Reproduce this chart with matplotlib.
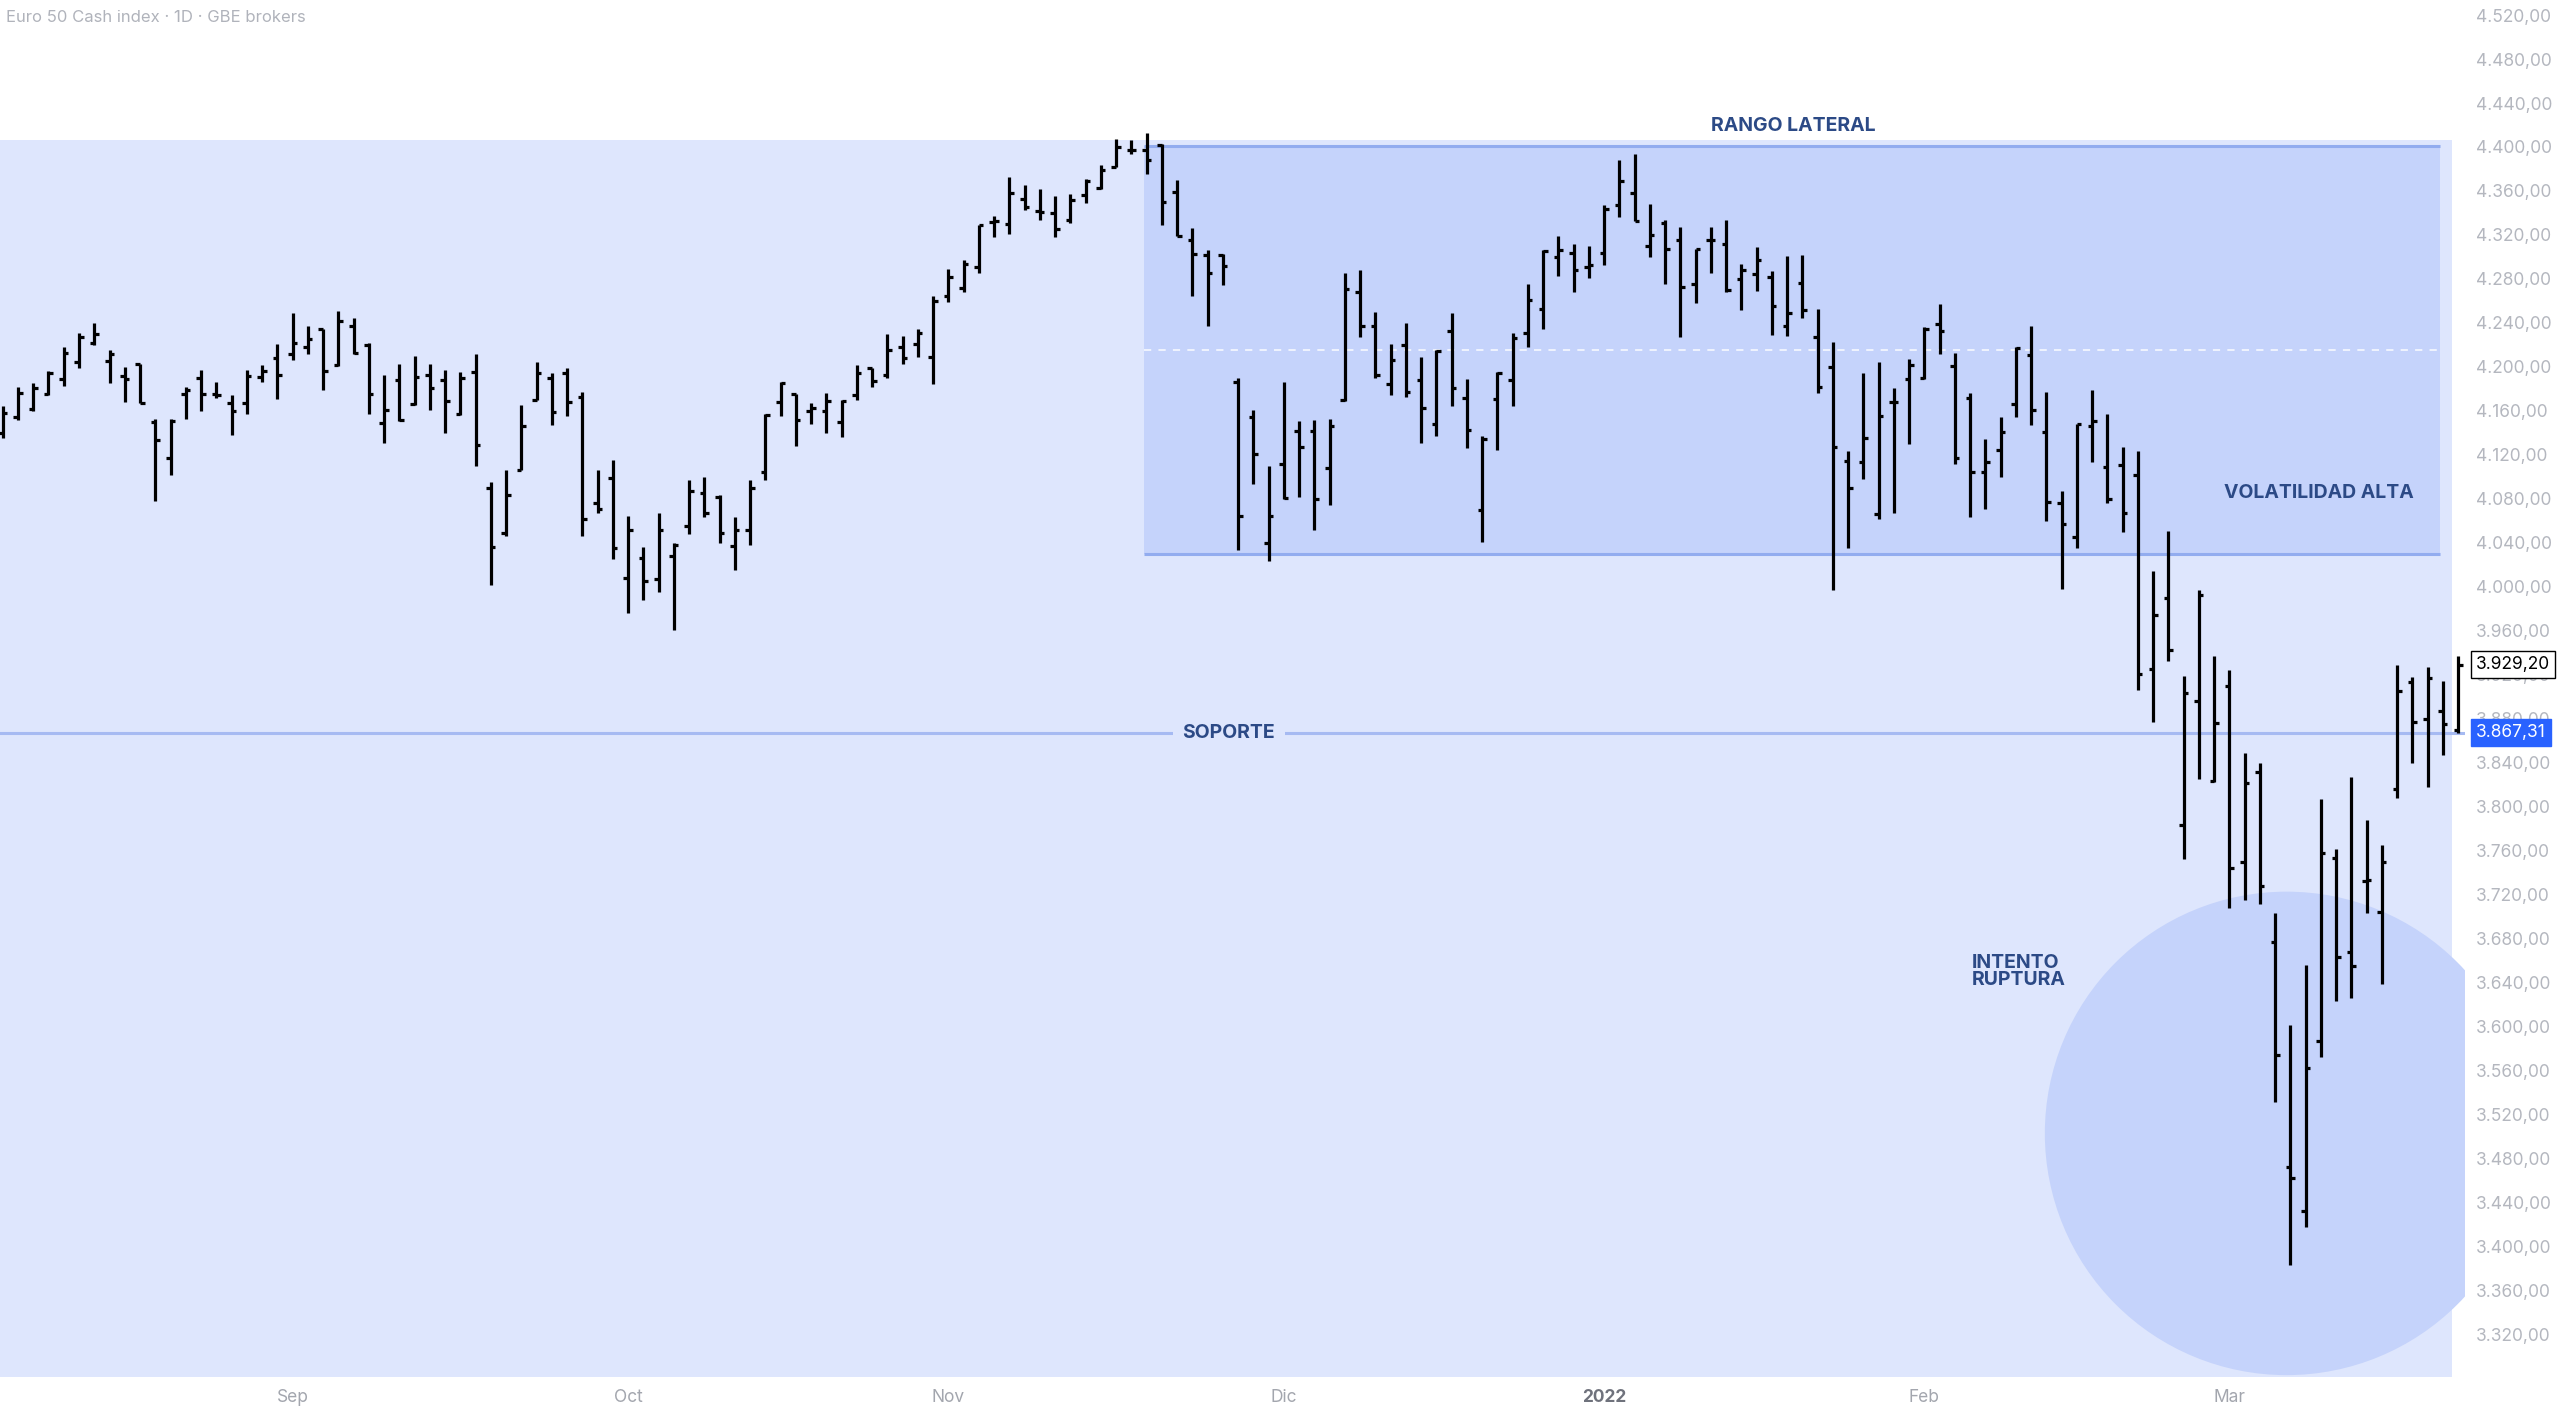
import matplotlib
matplotlib.use('Agg')
import matplotlib.pyplot as plt
from matplotlib.patches import Rectangle, Ellipse
import matplotlib.transforms as mtransforms

plt.rcParams['font.family'] = ['Inter', 'DejaVu Sans']

# daily OHLC, Euro 50 cash index, early Aug 2021 -> 22 Mar 2022
opens = [4140, 4154, 4162, 4175, 4189, 4204, 4222, 4205, 4192, 4203,
         4150, 4117, 4175, 4190, 4175, 4167, 4167, 4191, 4208, 4212,
         4218, 4234, 4202, 4237, 4220, 4149, 4188, 4166, 4193, 4188,
         4157, 4195, 4090, 4049, 4106, 4170, 4190, 4194, 4173, 4076,
         4099, 4008, 4026, 4007, 4028, 4055, 4085, 4082, 4037, 4052,
         4104, 4168, 4175, 4160, 4160, 4150, 4174, 4199, 4193, 4218,
         4221, 4209, 4264, 4272, 4291, 4332, 4330, 4353, 4342, 4340,
         4334, 4356, 4363, 4382, 4397, 4397, 4402, 4359, 4315, 4302,
         4302, 4186, 4154, 4040, 4112, 4142, 4142, 4108, 4170, 4268,
         4237, 4184, 4220, 4188, 4148, 4233, 4172, 4070, 4171, 4188,
         4231, 4253, 4300, 4304, 4291, 4304, 4347, 4358, 4310, 4331,
         4315, 4275, 4315, 4312, 4280, 4284, 4282, 4237, 4276, 4227,
         4200, 4114, 4113, 4066, 4168, 4189, 4190, 4239, 4201, 4172,
         4104, 4124, 4166, 4211, 4141, 4076, 4045, 4146, 4109, 4111,
         4102, 3925, 3990, 3783, 3896, 3823, 3910, 3750, 3831, 3677,
         3472, 3432, 3587, 3753, 3668, 3732, 3704, 3816, 3913, 3880,
         3887, 3870]
highs = [4164, 4182, 4185, 4196, 4218, 4231, 4240, 4215, 4200, 4203,
         4153, 4153, 4182, 4197, 4186, 4174, 4197, 4202, 4221, 4249,
         4237, 4234, 4251, 4244, 4222, 4193, 4203, 4210, 4203, 4197,
         4195, 4212, 4095, 4106, 4165, 4204, 4194, 4199, 4177, 4106,
         4115, 4064, 4036, 4067, 4040, 4097, 4100, 4083, 4063, 4097,
         4157, 4186, 4175, 4167, 4176, 4170, 4202, 4199, 4230, 4228,
         4234, 4264, 4289, 4297, 4329, 4337, 4373, 4365, 4362, 4355,
         4357, 4371, 4384, 4407, 4406, 4413, 4403, 4370, 4326, 4306,
         4303, 4190, 4161, 4110, 4186, 4151, 4152, 4153, 4285, 4288,
         4250, 4221, 4240, 4209, 4215, 4249, 4189, 4137, 4195, 4231,
         4275, 4306, 4319, 4312, 4310, 4347, 4388, 4394, 4348, 4334,
         4327, 4307, 4327, 4334, 4294, 4309, 4287, 4301, 4302, 4253,
         4223, 4123, 4194, 4204, 4181, 4207, 4236, 4257, 4213, 4176,
         4134, 4154, 4218, 4237, 4177, 4087, 4148, 4179, 4157, 4127,
         4123, 4014, 4051, 3919, 3997, 3937, 3924, 3849, 3840, 3703,
         3601, 3656, 3807, 3761, 3827, 3788, 3765, 3929, 3918, 3927,
         3914, 3937]
lows = [4135, 4152, 4160, 4174, 4183, 4199, 4220, 4185, 4168, 4167,
        4078, 4102, 4153, 4160, 4172, 4138, 4157, 4186, 4171, 4206,
        4212, 4179, 4201, 4212, 4157, 4131, 4151, 4165, 4161, 4140,
        4156, 4110, 4002, 4046, 4106, 4170, 4147, 4155, 4046, 4067,
        4025, 3976, 3988, 3995, 3961, 4048, 4063, 4040, 4015, 4038,
        4097, 4155, 4128, 4148, 4140, 4136, 4170, 4182, 4190, 4203,
        4209, 4184, 4259, 4268, 4285, 4318, 4321, 4343, 4334, 4318,
        4331, 4349, 4362, 4382, 4394, 4375, 4329, 4319, 4264, 4237,
        4274, 4033, 4093, 4023, 4080, 4082, 4052, 4074, 4169, 4227,
        4190, 4174, 4173, 4131, 4137, 4164, 4126, 4041, 4124, 4164,
        4218, 4234, 4283, 4268, 4281, 4293, 4336, 4333, 4300, 4275,
        4227, 4258, 4285, 4268, 4252, 4269, 4229, 4228, 4244, 4176,
        3997, 4035, 4098, 4062, 4067, 4130, 4189, 4212, 4112, 4063,
        4071, 4100, 4154, 4147, 4060, 3998, 4035, 4113, 4076, 4050,
        3906, 3877, 3932, 3752, 3825, 3822, 3708, 3715, 3711, 3531,
        3383, 3418, 3572, 3623, 3626, 3703, 3639, 3808, 3840, 3818,
        3847, 3867]
closes = [4158, 4176, 4181, 4194, 4213, 4227, 4230, 4212, 4189, 4167,
          4133, 4151, 4179, 4175, 4174, 4160, 4192, 4196, 4193, 4222,
          4225, 4196, 4242, 4213, 4175, 4161, 4152, 4191, 4181, 4169,
          4190, 4129, 4036, 4083, 4146, 4194, 4159, 4168, 4062, 4071,
          4035, 4052, 4005, 4052, 4038, 4087, 4067, 4049, 4052, 4090,
          4156, 4185, 4152, 4163, 4169, 4169, 4194, 4187, 4215, 4208,
          4231, 4260, 4282, 4294, 4329, 4333, 4358, 4345, 4341, 4325,
          4352, 4369, 4379, 4400, 4397, 4388, 4350, 4319, 4303, 4285,
          4292, 4064, 4121, 4064, 4081, 4127, 4080, 4146, 4271, 4237,
          4193, 4206, 4177, 4163, 4214, 4181, 4143, 4134, 4194, 4226,
          4261, 4305, 4306, 4288, 4293, 4344, 4369, 4333, 4320, 4307,
          4273, 4307, 4315, 4270, 4288, 4297, 4255, 4249, 4252, 4182,
          4127, 4090, 4135, 4155, 4168, 4202, 4234, 4233, 4117, 4104,
          4113, 4141, 4217, 4161, 4077, 4057, 4148, 4151, 4080, 4067,
          3921, 3974, 3942, 3903, 3992, 3876, 3744, 3821, 3728, 3574,
          3462, 3562, 3758, 3663, 3655, 3733, 3750, 3905, 3877, 3917,
          3875, 3929.20]

# first session of each month (bar index) and its label
month_pos = [19, 41, 62, 84, 105, 126, 146]
month_labels = ['Sep', 'Oct', 'Nov', 'Dic', '2022', 'Feb', 'Mar']

support = 3867.31
range_top = 4401
range_bottom = 4030
last_close = closes[-1]

price_ticks = list(range(3320, 4521, 40))


def es_fmt(v):
    s = f"{v:,.2f}"
    return s.replace(',', 'X').replace('.', ',').replace('X', '.')


fig = plt.figure(figsize=(25.6, 14.13), dpi=100)
ax = fig.add_axes([0, 36 / 1413, 2465 / 2560, 1377 / 1413])
ax.set_xlim(-0.18, 161.45)
ax.set_ylim(3281.1, 4533.7)
ax.set_facecolor('white')
for s in ax.spines.values():
    s.set_visible(False)

light = '#dee6fd'
mid = '#c5d3fb'
edge = '#92acef'
navy = '#2c4a86'

# shaded zones
ax.add_patch(Rectangle((-2, 3200), 162.6, 4406 - 3200, facecolor=light,
                       edgecolor='none', zorder=0))
ax.add_patch(Rectangle((74.85, range_bottom), 159.8 - 74.85,
                       range_top - range_bottom, facecolor=mid,
                       edgecolor='none', zorder=1))
ax.hlines([range_top, range_bottom], 74.85, 159.8, color=edge, lw=2.2, zorder=2)
ax.hlines((range_top + range_bottom) / 2, 74.85, 159.8, color='white',
          lw=1.3, linestyles=(0, (4, 4)), alpha=0.8, zorder=2)
ax.add_patch(Ellipse((149.75, 3502.7), 31.7, 439.8, facecolor=mid,
                     edgecolor='none', zorder=1))
ax.axhline(support, color='#a6baf2', lw=2.2, zorder=2)

# OHLC bars
x = list(range(len(closes)))
ax.vlines(x, lows, highs, color='black', lw=2.3, zorder=3)
ax.hlines(opens, [i - 0.3 for i in x], x, color='black', lw=2.3, zorder=3)
ax.hlines(closes, x, [i + 0.3 for i in x], color='black', lw=2.3, zorder=3)

# annotations
ax.text(80.4, support, 'SOPORTE', ha='center', va='center', fontsize=14,
        fontweight='bold', color=navy, zorder=4,
        bbox=dict(boxstyle='square,pad=0.5', facecolor=light, edgecolor='none'))
ax.text(117.4, 4419, 'RANGO LATERAL', ha='center', va='center', fontsize=14,
        fontweight='bold', color=navy, zorder=4)
ax.text(158.1, 4085, 'VOLATILIDAD ALTA', ha='right', va='center', fontsize=14,
        fontweight='bold', color=navy, zorder=4)
ax.text(129.1, 3650, 'INTENTO\nRUPTURA', ha='left', va='center', fontsize=14,
        fontweight='bold', color=navy, zorder=4, linespacing=0.95)

# price axis
ax.yaxis.tick_right()
ax.set_yticks(price_ticks)
ax.set_yticklabels([es_fmt(v) for v in price_ticks])
ax.tick_params(axis='y', length=0, pad=8, labelsize=12.5, labelcolor='#b4b7bf')
for lab in ax.get_yticklabels():
    lab.set_horizontalalignment('left')

ax.set_xticks(month_pos)
ax.set_xticklabels(month_labels)
ax.tick_params(axis='x', length=0, pad=9, labelsize=12.5, labelcolor='#a3a6ae')
for lab in ax.get_xticklabels():
    if lab.get_text() == '2022':
        lab.set_fontweight('bold')
        lab.set_color('#6f727c')

# last price / support markers
tr = mtransforms.blended_transform_factory(ax.transAxes, ax.transData)
ax.text(1.0045, last_close, es_fmt(last_close), transform=tr, ha='left',
        va='center', fontsize=12.5, color='black', zorder=6, clip_on=False,
        bbox=dict(boxstyle='square,pad=0.3', facecolor='white',
                  edgecolor='black', lw=1.0))
ax.text(1.0045, support, es_fmt(support), transform=tr, ha='left',
        va='center', fontsize=12.5, color='white', zorder=6, clip_on=False,
        bbox=dict(boxstyle='square,pad=0.3', facecolor='#2962ff',
                  edgecolor='#2962ff', lw=1.0))

fig.text(6 / 2560, 1 - 17 / 1413, 'Euro 50 Cash index · 1D · GBE brokers',
         ha='left', va='center', fontsize=12, color='#b0b3bb')

fig.savefig('out.png', dpi=100, facecolor='white')
